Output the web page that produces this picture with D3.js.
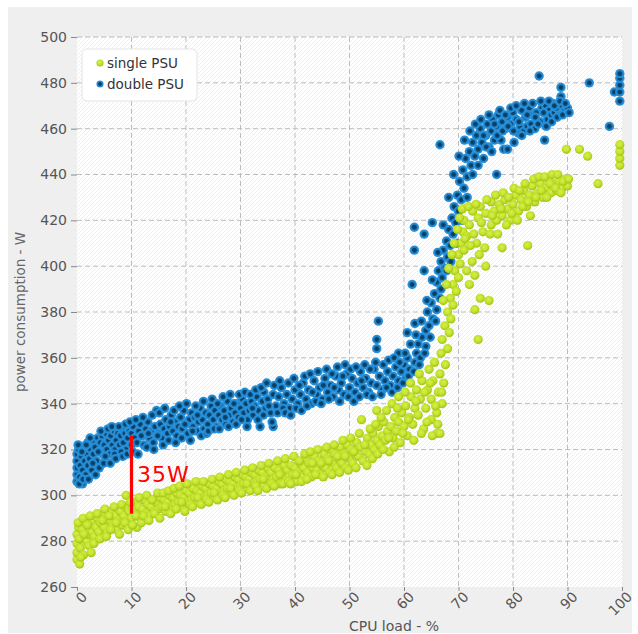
<!DOCTYPE html>
<meta charset="utf-8">
<head>
  <script src="https://d3js.org/d3.v7.min.js"></script>
  <style>
    body { margin: 0; background: #fff; }
    text { font-family: "DejaVu Sans", sans-serif; }
  </style>
</head>
<body>
<div id="chart"></div>
<script>
// values: [CPU load %, power W]
var doublePSU = [
  [0,306],[0,309],[0,312],[0,315],[0,318],[0.3,320],[0.5,308],[0.6,313],[0.8,317],[1,305],[1,311],[1.2,321],[1.4,315],[1.6,309],[1.8,318],
  [2,313],[2,323],[2.3,316],[2.5,320],[2.7,311],[3,318],[3,324],[3.3,321],[3.6,315],[3.8,325],[4,319],[4.3,323],[4.6,326],[4.8,318],
  [5,322],[5.3,327],[5.5,320],[5.8,324],[6,318],[6.2,326],[6.5,322],[6.8,328],[7,320],[7.2,324],[7.5,327],[7.8,322],[8,326],[8.3,329],
  [8.5,323],[8.8,327],[9,320],[9.3,325],[9.6,328],[10,322],[10,327],[10.3,330],[10.6,325],[11,323],[11.3,328],[11.6,331],[12,326],
  [12.3,322],[12.6,329],[13,332],[13.3,325],[13.6,328],[14,323],[14.3,330],[14.6,337],[15,327],[15.3,331],[15.6,325],[16,329],[16.3,333],
  [16.6,327],[17,330],[17.3,335],[17.6,328],[18,332],[18.3,326],[18.6,330],[19,334],[19.3,329],[19.6,337],[20,331],[20.3,327],[20.6,333],
  [21,336],[21.3,330],[21.6,334],[22,328],[22.3,332],[22.6,338],[23,333],[23.3,329],[23.6,336],[24,331],[24.3,335],[24.6,339],[25,333],
  [25.3,337],[25.6,330],[26,335],[26.3,339],[26.6,333],[27,337],[27.3,331],[27.6,341],[28,335],[28.3,338],[28.6,332],[29,336],[29.3,340],
  [29.6,334],[30,338],[30.3,342],[30.6,336],[31,340],[31.3,333],[31.6,337],[32,341],[32.3,335],[32.6,339],[33,343],[33.3,337],[33.6,330],
  [34,341],[34.3,345],[34.6,338],[35,342],[35.5,336],[36,344],[36,330],[36.5,339],[37,343],[37.5,347],[38,340],[38.5,344],[39,338],
  [39.5,342],[40,346],[40.5,340],[41,344],[41.5,349],[42,342],[42.5,346],[43,340],[43.5,350],[44,344],[44.5,347],[45,342],[45.5,351],
  [46,345],[46.5,348],[47,343],[47.5,352],[48,346],[48.5,349],[49,344],[49.5,353],[50,347],[50.5,351],[51,345],[51.5,349],[52,354],
  [52.5,347],[53,351],[53.5,345],[54,349],[54.5,355],[55,348],[55,364],[55,368],[55.3,376],[55.5,352],[56,346],[56.5,350],[57,354],
  [57.5,348],[58,352],[58.5,356],[59,350],[59,362],[59.5,354],[60,357],[60.3,351],[60.6,371],[60.6,360],[61,355],[61.5,392],[61.9,407],
  [61.9,417],[62,375],[62,358],[62.3,362],[62.6,366],[63,360],[63.3,369],[63.7,398],[63.7,414],[64,372],[64,365],[64.3,380],[64.6,374],
  [65,384],[65.2,419],[65.3,377],[65.6,388],[66,381],[66,393],[66.3,398],[66.6,453],[66.6,386],[66.8,402],[67,395],[67.2,407],[67.5,399],
  [67.8,411],[68,404],[68.2,416],[68.5,409],[68.8,421],[69,414],[69.2,426],[69.5,419],[69.8,431],[70,424],[70.2,437],[70.5,429],
  [70.8,442],[71,434],[71.3,447],[71.6,439],[72,450],[72.3,444],[72.6,454],[73,448],[73.3,457],[73.6,451],[74,460],[74.3,454],[74.6,447],
  [75,457],[75.3,462],[75.6,452],[76,459],[76.3,464],[76.6,455],[77,440],[77,461],[77.3,466],[77.8,455],[78,463],[78.3,451],[78.6,460],
  [79,465],[79,451],[79.6,462],[80,467],[80.2,454],[80.6,464],[81,458],[81.3,461],[81.6,468],[82,459],[82.3,465],[82.6,461],[83,469],
  [83.3,462],[83.6,466],[84,460],[84.3,467],[84.8,483],[85,463],[85.3,469],[85.8,455],[86,470],[86.3,464],[86.6,468],[87,466],[87.3,471],
  [87.6,467],[88,469],[88.5,466],[88.8,478],[88.8,474],[89,470],[89.5,468],[90,469],[94,480],[97.7,461],[98.6,476],
  [99.6,476],[99.6,479],[99.6,482],[99.6,484],[99.6,472],
  [0.2,322],[0.4,305],[0.9,319],[1.1,307],[1.7,322],[2.1,307],[2.4,325],[2.9,314],[3.4,309],[3.9,319],[4.1,312],[4.4,328],[4.9,314],
  [5.2,317],[5.7,329],[6.1,314],[6.4,330],[6.9,318],[7.1,316],[7.7,330],[8.1,319],[8.4,317],[8.9,331],[9.2,318],[9.7,332],[10.2,319],
  [10.8,333],[11.2,318],[11.8,326],[12.1,334],[12.8,321],[13.1,327],[13.8,335],[14.1,320],[14.8,326],[15.1,336],[15.8,322],[16.1,338],
  [16.8,324],[17.2,332],[17.8,337],[18.1,323],[18.8,339],[19.2,325],[19.8,331],[20.1,340],[20.8,324],[21.2,328],[21.8,339],[22.1,335],
  [22.8,326],[23.2,341],[23.8,327],[24.1,328],[24.8,342],[25.2,329],[25.8,340],[26.1,329],[26.8,343],[27.2,334],[27.8,330],[28.1,344],
  [28.8,340],[29.2,331],[29.8,344],[30.2,333],[30.8,345],[31.2,330],[31.8,344],[32.2,338],[32.8,346],[33.2,333],[33.8,347],[34.2,335],
  [34.8,349],[35.2,339],[35.8,332],[36.2,348],[36.8,336],[37.2,350],[37.8,338],[38.2,336],[38.8,349],[39.2,335],[39.8,351],[40.2,338],
  [40.8,348],[41.2,337],[41.8,352],[42.2,339],[42.8,353],[43.2,345],[43.8,341],[44.2,354],[44.8,340],[45.2,348],[45.8,355],[46.2,342],
  [46.8,353],[47.2,347],[47.8,356],[48.2,341],[48.8,352],[49.2,357],[49.8,343],[50.2,355],[50.8,341],[51.2,356],[51.8,343],[52.2,350],
  [52.8,357],[53.2,344],[53.8,355],[54.2,343],[54.8,358],[55.8,344],[56.2,357],[56.8,347],[57.2,359],[57.8,345],[58.2,360],[58.8,347],
  [59.2,358],[59.8,349],[60.2,362],[60.8,352],[61.2,366],[61.8,354],[62.2,370],[62.8,357],[63.2,376],[63.8,362],[64.2,385],[64.8,369],
  [65.2,394],[65.8,376],[66.2,406],[66.8,390],[67.2,418],[67.8,398],[68.2,430],[68.6,402],[69.1,440],[69.6,410],[70.1,448],[70.6,420],
  [71.1,455],[71.6,430],[72.1,459],[72.6,440],[73.1,462],[73.6,444],[74.1,464],[74.6,457],[75.1,452],[75.6,466],[76.1,450],[76.6,462],
  [77.1,457],[77.6,468],[78.1,459],[78.6,466],[79.1,461],[79.6,469],[80.1,459],[80.6,470],[81.1,463],[81.6,457],[82.1,471],[82.6,466],
  [83.1,459],[83.6,471],[84.1,465],[84.6,462],[85.1,472],[85.6,467],[86.1,461],[86.6,472],[87.1,463],[87.6,470],[88.1,465],[88.6,472],
  [89.1,466],[89.6,471],[90.3,467]
];

var singlePSU = [
  [0,272],[0,275],[0,279],[0,283],[0.3,286],[0.5,270],[0.6,277],[0.8,281],[1,285],[1.2,274],[1.5,288],[1.8,280],[2,283],[2.2,278],
  [2.5,287],[2.8,284],[3,289],[3.2,282],[3.5,286],[3.8,290],[4,284],[4.3,288],[4.6,292],[5,286],[5.3,290],[5.6,284],[6,289],[6.3,293],
  [6.6,287],[7,291],[7.3,285],[7.6,289],[8,293],[8.3,287],[8.6,291],[9,295],[9,300],[9.3,289],[9.6,293],[10,290],[10.3,294],[10.6,297],
  [11,286],[11,292],[11.3,295],[11.6,290],[12,294],[12.3,298],[12.6,292],[13,296],[13.3,291],[13.6,295],[14,298],[14.3,293],[14.6,297],
  [15,294],[15.3,299],[15.6,295],[16,298],[16.3,293],[16.6,297],[17,300],[17.3,295],[17.6,299],[18,296],[18.3,301],[18.6,297],[19,300],
  [19.3,295],[19.6,299],[20,302],[20.3,297],[20.6,301],[21,298],[21.3,303],[21.6,299],[22,302],[22.3,297],[22.6,301],[23,304],[23.3,299],
  [23.6,303],[24,300],[24.3,305],[24.6,301],[25,304],[25.3,299],[25.6,303],[26,306],[26.3,301],[26.6,305],[27,302],[27.3,307],[27.6,303],
  [28,306],[28.3,301],[28.6,305],[29,308],[29.3,303],[29.6,307],[30,304],[30.3,309],[30.6,305],[31,308],[31.3,303],[31.6,307],[32,310],
  [32.3,305],[32.6,309],[33,306],[33.3,311],[33.6,307],[34,310],[34.3,304],[34.6,308],[35,312],[35.3,306],[35.6,310],[36,307],[36.3,312],
  [36.6,308],[37,311],[37.3,305],[37.6,309],[38,313],[38.3,307],[38.6,311],[39,308],[39.3,313],[39.6,309],[40,312],[40.3,306],[40.6,310],
  [41,314],[41.3,308],[41.6,312],[42,316],[42.3,310],[42.6,314],[43,308],[43.3,312],[43.6,317],[44,311],[44.3,315],[44.6,309],[45,313],
  [45.3,318],[45.6,312],[46,316],[46.3,310],[46.6,320],[47,314],[47.3,318],[47.6,312],[48,316],[48.3,321],[48.6,314],[49,318],[49.3,312],
  [49.6,322],[50,316],[50.3,320],[50.6,314],[51,318],[51.3,323],[51.6,317],[52,321],[52.2,333],[52.5,315],[53,319],[53.3,325],[53.6,318],
  [54,322],[54.3,327],[54.6,320],[55,324],[55,337],[55.3,330],[55.6,322],[56,326],[56.3,332],[56.6,324],[57,328],[57.3,319],[57.6,330],
  [58,325],[58.3,334],[58.6,328],[59,332],[59,343],[59.3,323],[59.6,336],[60,330],[60.3,339],[60.6,326],[61,334],[61.3,343],[61.6,331],
  [62,338],[62.3,346],[62.6,335],[63,342],[63.3,350],[63.6,329],[64,338],[64.3,346],[64.6,355],[65,333],[65,342],[65.3,350],[65.6,358],
  [66,327],[66,336],[66.3,345],[66.6,353],[66.8,362],[67,340],[67,368],[67.3,349],[67.5,374],[67.6,357],[68,364],[68,380],[68.3,371],
  [68.5,386],[68.6,377],[69,383],[69,392],[69.3,398],[69.6,389],[70,395],[70,405],[70.3,401],[70.5,410],[70.8,415],[71,407],[71,420],
  [71.5,413],[71.5,398],[72,392],[72,418],[72.5,402],[72.6,424],[73,381],[73,396],[73.3,410],[73.6,368],[73.6,421],[74,426],[74,386],
  [74.5,415],[75,423],[75,400],[75.6,385],[76,428],[76,418],[76.5,424],[77,420],[77.5,427],[78,422],[78,408],[78.5,429],[79,425],
  [79.5,420],[80,427],[80.5,431],[81,424],[81.5,429],[82,433],[82.7,409],[82.5,426],[83,431],[83.5,435],[84,428],[84.5,432],[85,436],
  [85.5,430],[86,434],[86.5,438],[87,432],[87.5,436],[88,433],[88.5,437],[89,434],[89.5,438],[90,435],[89.8,451],[92.2,451],[93.7,448],
  [95.6,436],[99.6,444],[99.6,447],[99.6,450],[99.6,453],
  [0.2,288],[0.4,281],[0.7,273],[1.1,290],[1.3,283],[1.9,287],[2.4,291],[2.6,275],[3.1,279],[3.7,292],[4.2,281],[4.7,289],[5.1,294],
  [5.4,282],[5.9,291],[6.2,285],[6.8,295],[7.2,288],[7.8,283],[8.2,296],[8.8,288],[9.4,285],[9.8,297],[10.2,287],[10.8,291],[11.4,299],
  [11.8,288],[12.2,291],[12.8,300],[13.2,289],[13.8,298],[14.2,292],[14.8,301],[15.2,290],[15.8,301],[16.2,295],[16.8,302],[17.2,292],
  [17.8,303],[18.2,294],[18.8,304],[19.2,297],[19.8,293],[20.2,305],[20.8,296],[21.2,295],[21.8,306],[22.2,299],[22.8,296],[23.2,306],
  [23.8,298],[24.2,297],[24.8,307],[25.2,301],[25.8,298],[26.2,308],[26.8,300],[27.2,299],[27.8,309],[28.2,303],[28.8,300],[29.2,310],
  [29.8,302],[30.2,301],[30.8,311],[31.2,305],[31.8,302],[32.2,312],[32.8,304],[33.2,302],[33.8,313],[34.2,307],[34.8,303],[35.2,314],
  [35.8,305],[36.2,304],[36.8,315],[37.2,309],[37.8,305],[38.2,316],[38.8,306],[39.2,305],[39.8,317],[40.2,309],[40.8,315],[41.2,306],
  [41.8,318],[42.2,307],[42.8,319],[43.2,314],[43.8,309],[44.2,320],[44.8,314],[45.2,308],[45.8,321],[46.2,315],[46.8,309],[47.2,322],
  [47.8,317],[48.2,310],[48.8,324],[49.2,317],[49.8,311],[50.2,325],[50.8,319],[51.2,312],[51.8,327],[52.8,322],[53.2,313],[53.8,329],
  [54.2,316],[54.8,331],[55.2,318],[55.8,334],[56.2,320],[56.8,337],[57.2,325],[57.8,340],[58.2,321],[58.8,338],[59.8,327],[60.2,345],
  [60.8,333],[61.2,349],[61.8,324],[62.2,341],[62.8,353],[63.2,327],[63.8,345],[64.2,332],[64.8,349],[65.2,326],[65.8,339],[66.2,331],
  [66.6,327],[66.9,345],[67.2,385],[67.8,392],[68.2,399],[68.8,405],[69.2,410],[69.8,416],[70.2,421],[70.7,425],[71.2,412],[71.8,426],
  [72.2,409],[72.8,414],[73.2,427],[73.8,405],[74.2,419],[74.8,408],[75.2,429],[75.8,414],[76.2,422],[76.8,431],[77.2,414],[77.8,425],
  [78.2,432],[78.8,418],[79.2,430],[79.8,423],[80.2,434],[80.8,420],[81.2,433],[81.8,426],[82.2,436],[82.8,428],[83.2,422],[83.8,438],
  [84.2,430],[84.8,439],[85.2,433],[85.8,439],[86.2,430],[86.8,436],[87.2,440],[87.8,434],[88.2,440],[88.8,432],[89.2,437],[90.2,438]
];

var seriesNames = ["single PSU", "double PSU"];
var xTicks = [0, 10, 20, 30, 40, 50, 60, 70, 80, 90, 100];
var yTicks = [260, 280, 300, 320, 340, 360, 380, 400, 420, 440, 460, 480, 500];
var gap = { x: 10, low: 292, high: 326, label: "35W", labelX: 11, labelY: 306 };

var W = 638, H = 634;
var pLeft = 77, pRight = 622, pTop = 37, pBottom = 587;

var svg = d3.select("#chart").append("svg")
  .attr("width", W).attr("height", H);

var defs = svg.append("defs");

var hatch = defs.append("pattern")
  .attr("id", "hatch")
  .attr("patternUnits", "userSpaceOnUse")
  .attr("width", 4).attr("height", 4);
hatch.append("rect").attr("width", 4).attr("height", 4).attr("fill", "#fff");
hatch.append("path").attr("d", "M-1,1 l2,-2 M0,4 l4,-4 M3,5 l2,-2")
  .attr("stroke", "#efefef").attr("stroke-width", 1);

var gBlue = defs.append("radialGradient").attr("id", "blueDot");
gBlue.append("stop").attr("offset", "0%").attr("stop-color", "#07375a");
gBlue.append("stop").attr("offset", "42%").attr("stop-color", "#0c4a73");
gBlue.append("stop").attr("offset", "62%").attr("stop-color", "#1d84cc");
gBlue.append("stop").attr("offset", "100%").attr("stop-color", "#2f95de");

var gGreen = defs.append("radialGradient").attr("id", "greenDot")
  .attr("cx", "45%").attr("cy", "40%");
gGreen.append("stop").attr("offset", "0%").attr("stop-color", "#d6f04a");
gGreen.append("stop").attr("offset", "70%").attr("stop-color", "#c2e12c");
gGreen.append("stop").attr("offset", "100%").attr("stop-color", "#a9cb1e");

// panel
svg.append("rect").attr("x", 8).attr("y", 7).attr("width", 624).attr("height", 626)
  .attr("fill", "#efefef");

svg.append("rect").attr("x", pLeft).attr("y", pTop)
  .attr("width", pRight - pLeft).attr("height", pBottom - pTop)
  .attr("fill", "url(#hatch)");

var x = d3.scaleLinear().domain([0, 100]).range([pLeft, pRight]);
var y = d3.scaleLinear().domain([260, 500]).range([pBottom, pTop]);

// grid
svg.append("g").selectAll("line").data(xTicks.slice(1, -1)).join("line")
  .attr("x1", d => x(d)).attr("x2", d => x(d))
  .attr("y1", pTop).attr("y2", pBottom)
  .attr("stroke", "#bdbdbd").attr("stroke-dasharray", "5,3");
svg.append("g").selectAll("line").data(yTicks.slice(1)).join("line")
  .attr("x1", pLeft).attr("x2", pRight)
  .attr("y1", d => y(d)).attr("y2", d => y(d))
  .attr("stroke", "#bdbdbd").attr("stroke-dasharray", "5,3");

// axes
var yAxis = svg.append("g")
  .attr("transform", "translate(" + pLeft + ",0)")
  .call(d3.axisLeft(y).tickValues(yTicks).tickSize(6).tickPadding(4));
var xAxis = svg.append("g")
  .attr("transform", "translate(0," + pBottom + ")")
  .call(d3.axisBottom(x).tickValues(xTicks).tickSize(4).tickPadding(4));
[yAxis, xAxis].forEach(function (a) {
  a.select(".domain").remove();
  a.selectAll(".tick line").attr("stroke", "#888");
  a.selectAll("text").attr("fill", "#555").style("font-size", "14px")
    .style("font-family", "DejaVu Sans, sans-serif");
});
xAxis.selectAll("text")
  .attr("text-anchor", "end")
  .attr("dy", "0")
  .attr("transform", "translate(5,5) rotate(-45)");

// points
var plot = svg.append("g");
plot.selectAll(".dbl").data(doublePSU).join("circle")
  .attr("class", "dbl")
  .attr("cx", d => x(d[0])).attr("cy", d => y(d[1]))
  .attr("r", 4.7).attr("fill", "url(#blueDot)");
plot.selectAll(".sgl").data(singlePSU).join("circle")
  .attr("class", "sgl")
  .attr("cx", d => x(d[0])).attr("cy", d => y(d[1]))
  .attr("r", 4.6).attr("fill", "url(#greenDot)");

// annotation
svg.append("line")
  .attr("x1", x(gap.x)).attr("x2", x(gap.x))
  .attr("y1", y(gap.high)).attr("y2", y(gap.low))
  .attr("stroke", "#ff0000").attr("stroke-width", 3.2);
svg.append("text")
  .attr("x", x(gap.labelX)).attr("y", y(gap.labelY))
  .attr("fill", "#ff0000").style("font-size", "22px")
  .style("letter-spacing", "1px")
  .text(gap.label);

// axis labels
svg.append("text")
  .attr("transform", "translate(25," + ((pTop + pBottom) / 2) + ") rotate(-90)")
  .attr("text-anchor", "middle").attr("fill", "#666").style("font-size", "13.5px")
  .text("power consumption - W");
svg.append("text")
  .attr("x", 394).attr("y", 631)
  .attr("text-anchor", "middle").attr("fill", "#555").style("font-size", "14px")
  .text("CPU load - %");

// legend
var legend = svg.append("g").attr("transform", "translate(82,49)");
legend.append("rect").attr("width", 115).attr("height", 52).attr("rx", 5)
  .attr("fill", "#fff").attr("stroke", "#e4e4e4");
var fills = ["url(#greenDot)", "url(#blueDot)"];
seriesNames.forEach(function (name, i) {
  legend.append("circle").attr("cx", 18).attr("cy", 14 + i * 21).attr("r", 3.6).attr("fill", fills[i]);
  legend.append("text").attr("x", 25).attr("y", 19 + i * 21)
    .attr("fill", "#333").style("font-size", "13.5px").text(name);
});
</script>
</body>
